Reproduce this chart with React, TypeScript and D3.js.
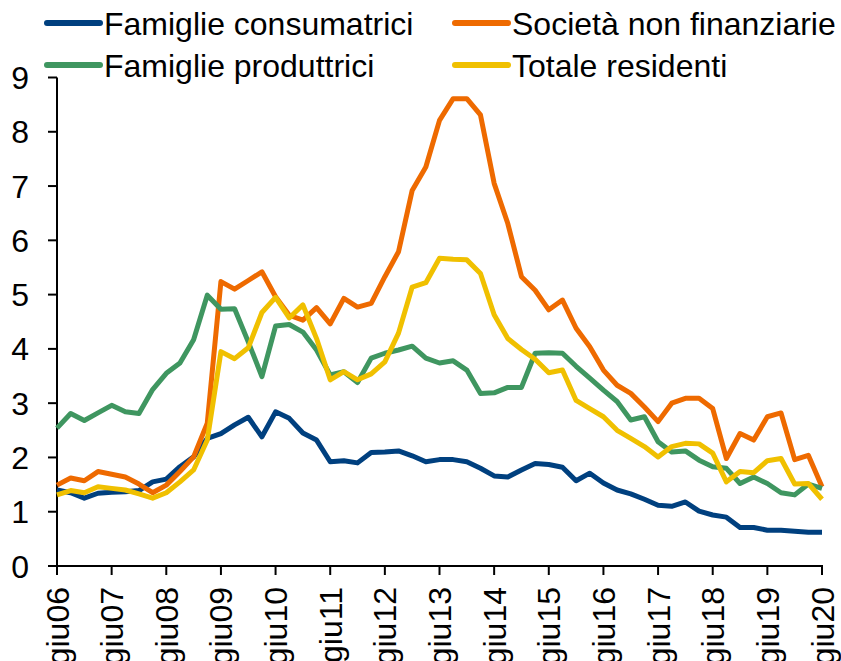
import React from "react";
import * as d3 from "d3";

const famiglieConsumatrici = [1.40,1.35,1.25,1.34,1.36,1.37,1.39,1.55,1.60,1.83,2.01,2.35,2.44,2.60,2.74,2.38,2.84,2.72,2.45,2.32,1.92,1.94,1.90,2.09,2.10,2.12,2.03,1.92,1.96,1.96,1.92,1.80,1.66,1.64,1.77,1.89,1.87,1.82,1.57,1.71,1.53,1.40,1.33,1.23,1.12,1.10,1.18,1.01,0.94,0.90,0.71,0.71,0.66,0.66,0.64,0.62,0.62];
const societaNonFinanziarie = [1.49,1.62,1.57,1.74,1.69,1.64,1.51,1.35,1.49,1.74,2.01,2.63,5.24,5.10,5.26,5.42,4.96,4.62,4.53,4.76,4.46,4.93,4.77,4.84,5.33,5.79,6.92,7.35,8.21,8.61,8.61,8.31,7.05,6.31,5.33,5.08,4.72,4.90,4.38,4.04,3.61,3.33,3.18,2.93,2.66,3.00,3.09,3.09,2.90,1.98,2.44,2.32,2.75,2.82,1.96,2.04,1.46];
const famiglieProduttrici = [2.54,2.81,2.68,2.82,2.96,2.84,2.81,3.25,3.55,3.74,4.17,4.99,4.73,4.74,4.13,3.49,4.42,4.45,4.31,3.98,3.52,3.58,3.38,3.83,3.92,3.98,4.05,3.83,3.74,3.78,3.61,3.18,3.19,3.29,3.29,3.92,3.93,3.92,3.68,3.46,3.24,3.03,2.69,2.75,2.29,2.10,2.12,1.95,1.83,1.80,1.52,1.64,1.52,1.35,1.31,1.51,1.43];
const totaleResidenti = [1.31,1.39,1.35,1.46,1.43,1.40,1.33,1.25,1.35,1.55,1.77,2.32,3.95,3.82,4.02,4.67,4.95,4.57,4.81,4.19,3.43,3.58,3.43,3.54,3.76,4.29,5.14,5.22,5.67,5.65,5.64,5.39,4.63,4.19,3.99,3.81,3.56,3.61,3.05,2.90,2.75,2.50,2.35,2.20,2.01,2.20,2.26,2.25,2.08,1.55,1.74,1.72,1.94,1.98,1.51,1.52,1.23];

const xTickLabels = ["giu06","giu07","giu08","giu09","giu10","giu11","giu12","giu13","giu14","giu15","giu16","giu17","giu18","giu19","giu20"];
const yTicks = [0,1,2,3,4,5,6,7,8,9];

const seriesNames = ["Famiglie consumatrici","Società non finanziarie","Famiglie produttrici","Totale residenti"];
const seriesColors = ["#00407f","#ee6a00","#3f9660","#f0c000"];
const seriesData = [famiglieConsumatrici, societaNonFinanziarie, famiglieProduttrici, totaleResidenti];

const FONT = "'Liberation Sans', Arial, sans-serif";

export default function App() {
  const W = 841, H = 661;
  const n = famiglieConsumatrici.length;
  const x = d3.scaleLinear().domain([0, n - 1]).range([57, 822]);
  const y = d3.scaleLinear().domain([0, 9]).range([566, 77.5]);
  const line = d3.line<number>().x((_, i) => x(i)).y(d => y(d));

  const legendPos = [
    { lx: 47, ly: 23 },
    { lx: 455, ly: 23 },
    { lx: 47, ly: 65 },
    { lx: 455, ly: 65 },
  ];

  return (
    <svg width={W} height={H} style={{ position: "absolute", left: 0, top: 0, background: "#fff" }} fontFamily={FONT}>
      {/* legend */}
      {seriesNames.map((name, k) => (
        <g key={name}>
          <line x1={legendPos[k].lx} x2={legendPos[k].lx + 53} y1={legendPos[k].ly} y2={legendPos[k].ly}
            stroke={seriesColors[k]} strokeWidth={6} strokeLinecap="round" />
          <text x={legendPos[k].lx + 57} y={legendPos[k].ly + 11.5} fontSize={32} fill="#000">{name}</text>
        </g>
      ))}
      {/* y axis */}
      <line x1={x(0)} x2={x(0)} y1={y(9)} y2={y(0)} stroke="#000" strokeWidth={2} />
      {yTicks.map(t => (
        <g key={t}>
          <line x1={x(0) - 9} x2={x(0)} y1={y(t)} y2={y(t)} stroke="#000" strokeWidth={2} />
          <text x={29} y={y(t)} dy="0.36em" textAnchor="end" fontSize={32} fill="#000">{t}</text>
        </g>
      ))}
      {/* x axis */}
      <line x1={x(0) - 9} x2={x(n - 1) + 1} y1={y(0)} y2={y(0)} stroke="#000" strokeWidth={2} />
      {xTickLabels.map((lab, k) => {
        const xi = x(k * 4);
        return (
          <g key={lab}>
            <line x1={xi} x2={xi} y1={y(0)} y2={y(0) + 9} stroke="#000" strokeWidth={2} />
            <text transform={`translate(${xi},587) rotate(-90)`} dy="0.36em" textAnchor="end" fontSize={32} fill="#000">{lab}</text>
          </g>
        );
      })}
      {/* series */}
      {seriesData.map((d, k) => (
        <path key={k} d={line(d) || ""} fill="none" stroke={seriesColors[k]} strokeWidth={5} strokeLinejoin="round" />
      ))}
    </svg>
  );
}
